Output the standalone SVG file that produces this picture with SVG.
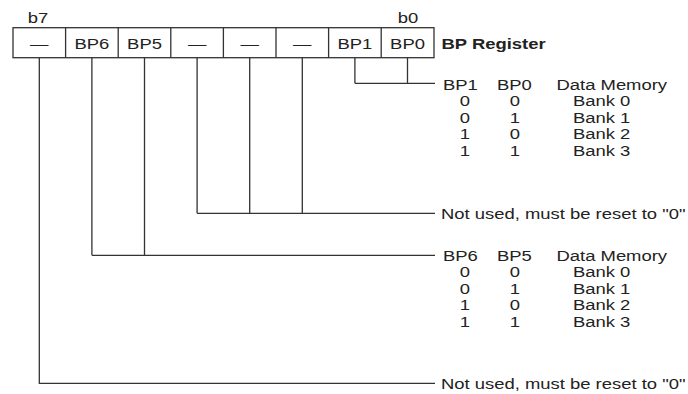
<svg xmlns="http://www.w3.org/2000/svg" width="688" height="394" viewBox="0 0 688 394">
<style>
text{font-family:"Liberation Sans",Arial,sans-serif;font-size:15.5px;fill:#222}
.c{text-anchor:middle}
.b{font-weight:bold}
.ln{fill:none;stroke:#333;stroke-width:1.3}
.cell{fill:#fff;stroke:#333;stroke-width:1.3}
</style>
<rect width="688" height="394" fill="#fff"/>
<g id="register">
<rect class="cell" x="13" y="27.7" width="421" height="30"/>
<path class="ln" d="M65.6 27.7V57.7M118.2 27.7V57.7M170.8 27.7V57.7M223.4 27.7V57.7M276 27.7V57.7M328.6 27.7V57.7M381.2 27.7V57.7"/>
<text class="c" transform="matrix(1.19 0 0 1 39.3 48.5)">—</text>
<text class="c" transform="matrix(1.19 0 0 1 91.9 48.5)">BP6</text>
<text class="c" transform="matrix(1.19 0 0 1 144.5 48.5)">BP5</text>
<text class="c" transform="matrix(1.19 0 0 1 197.1 48.5)">—</text>
<text class="c" transform="matrix(1.19 0 0 1 249.7 48.5)">—</text>
<text class="c" transform="matrix(1.19 0 0 1 302.3 48.5)">—</text>
<text class="c" transform="matrix(1.19 0 0 1 354.9 48.5)">BP1</text>
<text class="c" transform="matrix(1.19 0 0 1 407.5 48.5)">BP0</text>
<text class="c" transform="matrix(1.19 0 0 1 38 22.5)">b7</text>
<text class="c" transform="matrix(1.19 0 0 1 408 22.5)">b0</text>
<text class="b" transform="matrix(1.19 0 0 1 441.5 48.5)">BP Register</text>
</g>
<g id="connectors">
<path class="ln" d="M354.9 57.7V83.3M407.5 57.7V83.3M354.9 83.3H435"/>
<path class="ln" d="M197.1 57.7V213.3M249.7 57.7V213.3M302.3 57.7V213.3M197.1 213.3H435"/>
<path class="ln" d="M91.9 57.7V255.3M144.5 57.7V255.3M91.9 255.3H435"/>
<path class="ln" d="M39.3 57.7V383.3H435"/>
</g>
<g id="table-bp1-bp0">
<text transform="matrix(1.19 0 0 1 443 89.5)">BP1</text>
<text transform="matrix(1.19 0 0 1 497 89.5)">BP0</text>
<text transform="matrix(1.19 0 0 1 556.5 89.5)">Data Memory</text>
<text class="c" transform="matrix(1.19 0 0 1 465 106)">0</text><text class="c" transform="matrix(1.19 0 0 1 515 106)">0</text><text transform="matrix(1.19 0 0 1 573 106)">Bank 0</text>
<text class="c" transform="matrix(1.19 0 0 1 465 122.5)">0</text><text class="c" transform="matrix(1.19 0 0 1 515 122.5)">1</text><text transform="matrix(1.19 0 0 1 573 122.5)">Bank 1</text>
<text class="c" transform="matrix(1.19 0 0 1 465 139)">1</text><text class="c" transform="matrix(1.19 0 0 1 515 139)">0</text><text transform="matrix(1.19 0 0 1 573 139)">Bank 2</text>
<text class="c" transform="matrix(1.19 0 0 1 465 155.5)">1</text><text class="c" transform="matrix(1.19 0 0 1 515 155.5)">1</text><text transform="matrix(1.19 0 0 1 573 155.5)">Bank 3</text>
</g>
<g id="note-bits-4-2">
<text transform="matrix(1.19 0 0 1 441 218.8)">Not used, must be reset to "0"</text>
</g>
<g id="table-bp6-bp5">
<text transform="matrix(1.19 0 0 1 443 260.8)">BP6</text>
<text transform="matrix(1.19 0 0 1 497 260.8)">BP5</text>
<text transform="matrix(1.19 0 0 1 556.5 260.8)">Data Memory</text>
<text class="c" transform="matrix(1.19 0 0 1 465 277.3)">0</text><text class="c" transform="matrix(1.19 0 0 1 515 277.3)">0</text><text transform="matrix(1.19 0 0 1 573 277.3)">Bank 0</text>
<text class="c" transform="matrix(1.19 0 0 1 465 293.8)">0</text><text class="c" transform="matrix(1.19 0 0 1 515 293.8)">1</text><text transform="matrix(1.19 0 0 1 573 293.8)">Bank 1</text>
<text class="c" transform="matrix(1.19 0 0 1 465 310.3)">1</text><text class="c" transform="matrix(1.19 0 0 1 515 310.3)">0</text><text transform="matrix(1.19 0 0 1 573 310.3)">Bank 2</text>
<text class="c" transform="matrix(1.19 0 0 1 465 326.8)">1</text><text class="c" transform="matrix(1.19 0 0 1 515 326.8)">1</text><text transform="matrix(1.19 0 0 1 573 326.8)">Bank 3</text>
</g>
<g id="note-bit-7">
<text transform="matrix(1.19 0 0 1 441 388.8)">Not used, must be reset to "0"</text>
</g>
</svg>
